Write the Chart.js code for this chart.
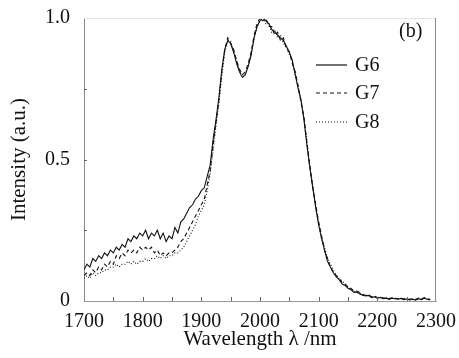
<!DOCTYPE html>
<html><head><meta charset="utf-8">
<script src="https://cdn.jsdelivr.net/npm/chart.js@4/dist/chart.umd.min.js"></script>
<style>html,body{margin:0;padding:0;background:#fff}</style>
</head><body>
<canvas id="c" width="459" height="358"></canvas>
<script>
// x grid: samples every 5 nm from 1700 nm
const wavelengthStart = 1700;
const wavelengthStep = 5;

const seriesNames = ['G6', 'G7', 'G8'];

const g6 = [
  0.11,0.13,0.12,0.15,0.14,0.16,0.15,0.17,0.16,0.18,
  0.17,0.19,0.18,0.20,0.19,0.22,0.21,0.23,0.22,0.24,
  0.23,0.25,0.22,0.24,0.23,0.25,0.22,0.24,0.21,0.23,
  0.22,0.26,0.24,0.28,0.29,0.31,0.33,0.34,0.36,0.37,
  0.39,0.40,0.44,0.48,0.57,0.64,0.72,0.82,0.89,0.92,
  0.91,0.88,0.84,0.81,0.79,0.80,0.83,0.87,0.93,0.97,
  0.99,1.00,0.99,0.98,0.96,0.95,0.94,0.93,0.92,0.90,
  0.88,0.85,0.80,0.75,0.71,0.64,0.55,0.47,0.40,0.33,
  0.27,0.22,0.18,0.14,0.12,0.10,0.085,0.075,0.06,0.055,
  0.045,0.04,0.03,0.032,0.025,0.02,0.018,0.02,0.012,0.015,
  0.01,0.012,0.008,0.01,0.006,0.01,0.008,0.006,0.009,0.005,
  0.007,0.004,0.006,0.003,0.008,0.005,0.01,0.006,0.004
];
const g7 = [
  0.09,0.10,0.09,0.11,0.10,0.12,0.11,0.13,0.12,0.14,
  0.13,0.16,0.15,0.17,0.16,0.18,0.17,0.18,0.17,0.19,
  0.18,0.19,0.18,0.19,0.17,0.18,0.16,0.17,0.16,0.17,
  0.17,0.18,0.19,0.21,0.22,0.24,0.26,0.28,0.30,0.32,
  0.34,0.36,0.41,0.46,0.55,0.63,0.71,0.81,0.89,0.93,
  0.91,0.89,0.85,0.82,0.80,0.81,0.84,0.88,0.94,0.98,
  1.00,0.99,1.00,0.97,0.97,0.94,0.95,0.92,0.93,0.89,
  0.88,0.84,0.81,0.76,0.70,0.65,0.56,0.48,0.40,0.34,
  0.28,0.23,0.18,0.15,0.12,0.10,0.09,0.08,0.065,0.06,
  0.05,0.045,0.035,0.035,0.03,0.022,0.02,0.022,0.015,0.018,
  0.012,0.015,0.01,0.012,0.008,0.012,0.01,0.008,0.011,0.007,
  0.009,0.006,0.008,0.005,0.01,0.007,0.012,0.008,0.006
];
const g8 = [
  0.08,0.09,0.08,0.10,0.09,0.10,0.10,0.11,0.11,0.12,
  0.12,0.13,0.12,0.13,0.13,0.14,0.13,0.14,0.13,0.14,
  0.14,0.15,0.14,0.15,0.15,0.16,0.15,0.16,0.15,0.16,
  0.16,0.17,0.17,0.18,0.19,0.21,0.23,0.25,0.27,0.30,
  0.32,0.34,0.39,0.45,0.53,0.62,0.70,0.80,0.88,0.92,
  0.92,0.88,0.85,0.81,0.80,0.80,0.83,0.88,0.93,0.97,
  0.99,1.00,0.98,0.98,0.95,0.96,0.93,0.94,0.91,0.90,
  0.87,0.85,0.80,0.76,0.71,0.64,0.56,0.47,0.41,0.33,
  0.27,0.22,0.19,0.15,0.13,0.11,0.09,0.08,0.07,0.06,
  0.05,0.04,0.035,0.03,0.028,0.024,0.02,0.02,0.016,0.015,
  0.012,0.014,0.01,0.011,0.009,0.01,0.009,0.008,0.01,0.007,
  0.008,0.006,0.007,0.005,0.009,0.006,0.01,0.007,0.005
];

const xTickValues = [1700, 1800, 1900, 2000, 2100, 2200, 2300];
const xTickLabels = ['1700', '1800', '1900', '2000', '2100', '2200', '2300'];
const xMinorTickValues = [1750, 1800, 1850, 1900, 1950, 2000, 2050, 2100, 2150, 2200, 2250];
const yTickValues = [0, 0.5, 1];
const yTickLabels = ['0', '0.5', '1.0'];
const yMinorTickValues = [0.25, 0.5, 0.75];

const seriesValues = [g6, g7, g8];
const dashes = [[], [4, 3], [1, 2]];

function toPoints(vals) {
  return vals.map((v, i) => ({ x: wavelengthStart + i * wavelengthStep, y: v }));
}

const tickFont = { family: '"Liberation Serif", serif', size: 20 };
const titleFont = { family: '"Liberation Serif", serif', size: 21 };

const framePlugin = {
  id: 'frame',
  afterDraw(chart) {
    const ctx = chart.ctx;
    const a = chart.chartArea;
    const xs = chart.scales.x, ys = chart.scales.y;
    ctx.save();
    ctx.lineWidth = 1;
    ctx.strokeStyle = '#e4e4e4';
    ctx.beginPath(); ctx.moveTo(a.left, a.top + 0.5); ctx.lineTo(a.right, a.top + 0.5); ctx.stroke();
    ctx.strokeStyle = '#8a8a8a';
    ctx.beginPath(); ctx.moveTo(a.right - 0.5, a.top); ctx.lineTo(a.right - 0.5, a.bottom); ctx.stroke();
    ctx.strokeStyle = '#666';
    xMinorTickValues.forEach(v => {
      const px = Math.round(xs.getPixelForValue(v)) + 0.5;
      ctx.beginPath(); ctx.moveTo(px, a.bottom); ctx.lineTo(px, a.bottom - 4); ctx.stroke();
    });
    yMinorTickValues.forEach(v => {
      const py = Math.round(ys.getPixelForValue(v)) + 0.5;
      ctx.beginPath(); ctx.moveTo(a.left, py); ctx.lineTo(a.left + 3, py); ctx.stroke();
    });
    ctx.font = '20px "Liberation Serif", serif';
    ctx.fillStyle = '#111';
    ctx.textBaseline = 'middle';
    ctx.textAlign = 'left';
    const ly = [65, 93, 122];
    seriesNames.forEach((name, i) => {
      ctx.strokeStyle = '#111';
      ctx.lineWidth = 1.2;
      ctx.setLineDash(dashes[i]);
      ctx.beginPath(); ctx.moveTo(316, ly[i]); ctx.lineTo(347, ly[i]); ctx.stroke();
      ctx.setLineDash([]);
      ctx.fillText(name, 355, ly[i] + 1);
    });
    ctx.fillText('(b)', 399, 32);
    ctx.restore();
  }
};

new Chart(document.getElementById('c'), {
  type: 'line',
  data: {
    datasets: seriesNames.map((name, i) => ({
      label: name,
      data: toPoints(seriesValues[i]),
      borderColor: '#111',
      borderWidth: 1.1,
      borderDash: dashes[i],
      pointRadius: 0,
      tension: 0,
      fill: false
    }))
  },
  options: {
    responsive: false,
    animation: false,
    events: [],
    layout: { padding: { top: 15, right: 23, left: 0, bottom: 0 } },
    plugins: { legend: { display: false }, tooltip: { enabled: false } },
    scales: {
      x: {
        type: 'linear', min: 1700, max: 2300,
        afterBuildTicks: s => { s.ticks = xTickValues.map(v => ({ value: v })); },
        afterFit: s => { s.height = 57; },
        ticks: {
          font: tickFont, color: '#111', padding: 1, maxRotation: 0, autoSkip: false,
          callback: v => { const k = xTickValues.indexOf(v); return k >= 0 ? xTickLabels[k] : ''; }
        },
        grid: { display: false },
        border: { display: true, color: '#9a9a9a', width: 1 },
        title: { display: true, text: 'Wavelength λ /nm', font: titleFont, color: '#111', padding: { top: 0, bottom: 6 } }
      },
      y: {
        type: 'linear', min: 0, max: 1,
        afterBuildTicks: s => { s.ticks = yTickValues.map(v => ({ value: v })); },
        afterFit: s => { s.width = 84; },
        ticks: {
          font: tickFont, color: '#111', padding: 6,
          callback: v => { const k = yTickValues.indexOf(v); return k >= 0 ? yTickLabels[k] : ''; }
        },
        grid: { display: false },
        border: { display: true, color: '#8a8a8a', width: 1 },
        title: { display: true, text: 'Intensity (a.u.)', font: titleFont, color: '#111', padding: { top: 7, bottom: 0 } }
      }
    }
  },
  plugins: [framePlugin]
});
</script>
</body></html>
